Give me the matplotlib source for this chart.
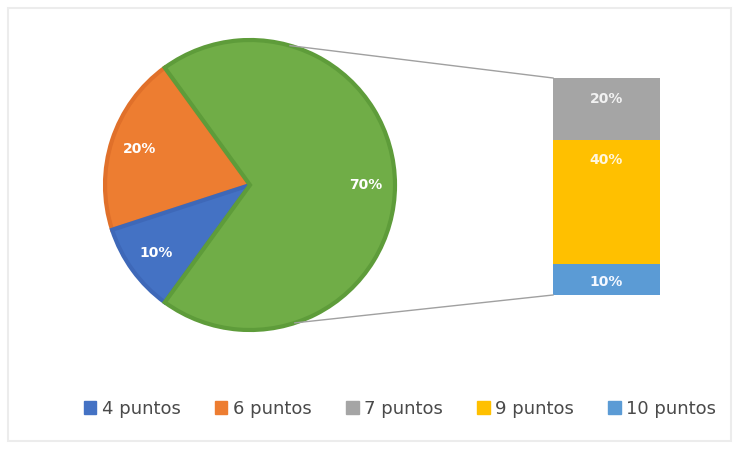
import numpy as np
import matplotlib.pyplot as plt
from matplotlib.patches import Patch, Rectangle

# pie part
pie_labels = ['6 puntos', '4 puntos', 'otros']
pie_values = [20, 10, 70]
pie_colors = ['#ED7D31', '#4472C4', '#70AD47']
pie_edges = ['#E0702A', '#3E68B8', '#5E9C3A']

# bar part (breakdown of the 70% slice), bottom to top
bar_labels = ['10 puntos', '9 puntos', '7 puntos']
bar_values = [10, 40, 20]
bar_colors = ['#5B9BD5', '#FFC000', '#A5A5A5']

legend_labels = ['4 puntos', '6 puntos', '7 puntos', '9 puntos', '10 puntos']
legend_colors = ['#4472C4', '#ED7D31', '#A5A5A5', '#FFC000', '#5B9BD5']

W, H = 739, 449
fig = plt.figure(figsize=(W / 100, H / 100), dpi=100)
ax = fig.add_axes([0, 0, 1, 1])

# faint chart frame
ax.add_patch(Rectangle((8, 8), W - 16, H - 16, fill=False, ec='#ececec', lw=1.5))

cx, cy, r = 250, H - 185, 145
wedges, texts, autotexts = ax.pie(
    pie_values, colors=pie_colors, startangle=126, radius=r, center=(cx, cy),
    autopct='%d%%', pctdistance=0.8, frame=True,
    wedgeprops=dict(lw=3), textprops=dict(color='white', fontsize=10, fontweight='bold'))
for w, ec in zip(wedges, pie_edges):
    w.set_edgecolor(ec)
ax.set_xlim(0, W)
ax.set_ylim(0, H)
ax.set_aspect('equal')
ax.axis('off')

# stacked bar
bx, bw = 606.5, 107
unit = 31 / 10.0
bottom = H - 295
tops = []
for val, col in zip(bar_values, bar_colors):
    ax.bar(bx, val * unit, bw, bottom=bottom, color=col, edgecolor=col, lw=0)
    tops.append((bottom, val * unit))
    bottom += val * unit
bar_top = bottom

# value labels on bar
b0, h0 = tops[0]
ax.text(bx, b0 + h0 / 2 - 3, '10%', ha='center', va='center', color='#f4f8ff', fontsize=10, fontweight='bold')
b1, h1 = tops[1]
ax.text(bx, b1 + h1 - 20, '40%', ha='center', va='center', color='#fff6dd', fontsize=10, fontweight='bold')
b2, h2 = tops[2]
ax.text(bx, b2 + h2 - 21, '20%', ha='center', va='center', color='#f2f2f2', fontsize=10, fontweight='bold')

# connector lines
a_top, a_bot = np.deg2rad(74), np.deg2rad(-72)
ax.plot([cx + r * np.cos(a_top), bx - bw / 2], [cy + r * np.sin(a_top), bar_top], color='#a0a0a0', lw=1)
ax.plot([cx + r * np.cos(a_bot), bx - bw / 2], [cy + r * np.sin(a_bot), H - 295], color='#a0a0a0', lw=1)

handles = [Patch(facecolor=c, edgecolor=c) for c in legend_colors]
fig.legend(handles, legend_labels, loc='center', bbox_to_anchor=(400 / W, 1 - 409 / H),
           ncol=5, frameon=False, fontsize=13, handlelength=0.7, handleheight=0.7,
           handletextpad=0.3, columnspacing=1.9, labelcolor='#4a4a4a')

fig.savefig('out.png', dpi=100)
